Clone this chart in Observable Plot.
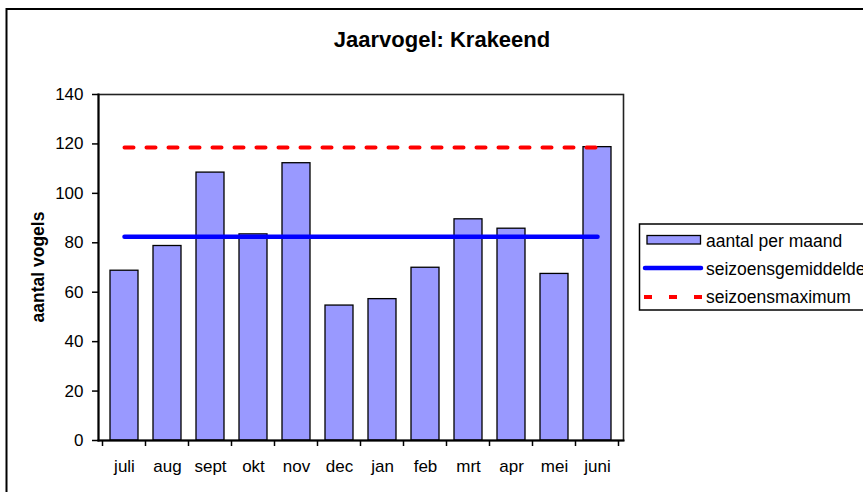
<!DOCTYPE html>
<html>
<head>
<meta charset="utf-8">
<script src="https://cdn.jsdelivr.net/npm/d3@7"></script>
<script src="https://cdn.jsdelivr.net/npm/@observablehq/plot@0.6"></script>
<style>
  html, body { margin: 0; padding: 0; background: #fff; }
  #chart { width: 863px; height: 492px; overflow: hidden; }
</style>
</head>
<body>
<div id="chart"></div>
<script>
const months = ["juli", "aug", "sept", "okt", "nov", "dec", "jan", "feb", "mrt", "apr", "mei", "juni"];
const counts = [68.7, 78.7, 108.4, 83.4, 112.2, 54.6, 57.2, 69.9, 89.5, 85.7, 67.4, 118.7];
const seasonMean = [82.4];
const seasonMax = [118.6];
const yTicks = [0, 20, 40, 60, 80, 100, 120, 140];
const titleText = "Jaarvogel: Krakeend";
const yLabel = "aantal vogels";
const legendLabels = ["aantal per maand", "seizoensgemiddelde", "seizoensmaximum"];

const bars = months.map((m, i) => ({month: m, value: counts[i]}));
const ends = [months[0], months[months.length - 1]];
const meanLine = ends.map(m => ({month: m, value: seasonMean[0]}));
const maxLine = ends.map(m => ({month: m, value: seasonMax[0]}));

const FONT = "'Liberation Sans', Arial, Helvetica, sans-serif";

const chart = Plot.plot({
  width: 863,
  height: 492,
  marginLeft: 98,
  marginRight: 240,
  marginTop: 94,
  marginBottom: 52,
  style: {fontFamily: FONT, fontSize: "17px", color: "black", background: "white", overflow: "hidden"},
  x: {domain: months, paddingInner: 0.344, paddingOuter: 0.172, label: null},
  y: {domain: [0, 140], label: null},
  marks: [
    Plot.frame({stroke: "#222", strokeWidth: 1.6}),
    Plot.barY(bars, {x: "month", y: "value", fill: "#9999FF", stroke: "black", strokeWidth: 1.3}),
    Plot.lineY(maxLine, {x: "month", y: "value", stroke: "#FF0000", strokeWidth: 4, strokeDasharray: "9,13"}),
    Plot.lineY(meanLine, {x: "month", y: "value", stroke: "#0000FF", strokeWidth: 4.5, strokeLinecap: "round"}),
    Plot.axisY({ticks: yTicks, tickSize: 6, tickPadding: 9, stroke: "black", strokeWidth: 1.5, fontSize: 17, label: null}),
    Plot.axisX({tickSize: 0, tickPadding: 19, fontSize: 17, label: null}),
    Plot.frame({anchor: "left", stroke: "black", strokeWidth: 2}),
    Plot.frame({anchor: "bottom", stroke: "black", strokeWidth: 2})
  ]
});

const svg = d3.select(chart);
const xs = chart.scale("x");
const ys = chart.scale("y");
const step = xs.step, bw = xs.bandwidth;
const y0 = ys.apply(0);

// Excel-style x ticks at category boundaries
const bounds = months.map(m => xs.apply(m) - (step - bw) / 2);
bounds.push(bounds[bounds.length - 1] + step);
svg.append("g").selectAll("line").data(bounds).join("line")
  .attr("x1", d => d).attr("x2", d => d)
  .attr("y1", y0).attr("y2", y0 + 6)
  .attr("stroke", "black").attr("stroke-width", 1.5);

// Outer chart border
svg.append("rect")
  .attr("x", 6.5).attr("y", 9).attr("width", 900).attr("height", 520)
  .attr("fill", "none").attr("stroke", "black").attr("stroke-width", 2);

// Title
svg.append("text")
  .attr("x", 442).attr("y", 46.5)
  .attr("text-anchor", "middle")
  .attr("font-family", FONT).attr("font-weight", "bold").attr("font-size", 22)
  .text(titleText);

// Y axis label
const yMid = (ys.apply(0) + ys.apply(140)) / 2;
svg.append("text")
  .attr("transform", `translate(44,${yMid}) rotate(-90)`)
  .attr("text-anchor", "middle")
  .attr("font-family", FONT).attr("font-weight", "bold").attr("font-size", 17.5)
  .text(yLabel);

// Legend
const lg = svg.append("g").attr("font-family", FONT).attr("font-size", 17.5).attr("text-anchor", "start");
lg.append("rect")
  .attr("x", 639.5).attr("y", 224).attr("width", 300).attr("height", 86)
  .attr("fill", "white").attr("stroke", "black").attr("stroke-width", 1.5);
lg.append("rect")
  .attr("x", 647).attr("y", 235.5).attr("width", 53.5).attr("height", 8.5)
  .attr("fill", "#9999FF").attr("stroke", "black").attr("stroke-width", 1.3);
lg.append("line")
  .attr("x1", 645).attr("x2", 701).attr("y1", 268).attr("y2", 268)
  .attr("stroke", "#0000FF").attr("stroke-width", 4.5).attr("stroke-linecap", "round");
lg.append("line")
  .attr("x1", 644).attr("x2", 702).attr("y1", 297).attr("y2", 297)
  .attr("stroke", "#FF0000").attr("stroke-width", 4).attr("stroke-dasharray", "8,17");
const baselines = [246.5, 275, 302.5];
legendLabels.forEach((t, i) => {
  lg.append("text").attr("x", 706).attr("y", baselines[i])
    .attr("text-anchor", "start").attr("fill", "black").text(t);
});

document.getElementById("chart").appendChild(chart);
</script>
</body>
</html>
